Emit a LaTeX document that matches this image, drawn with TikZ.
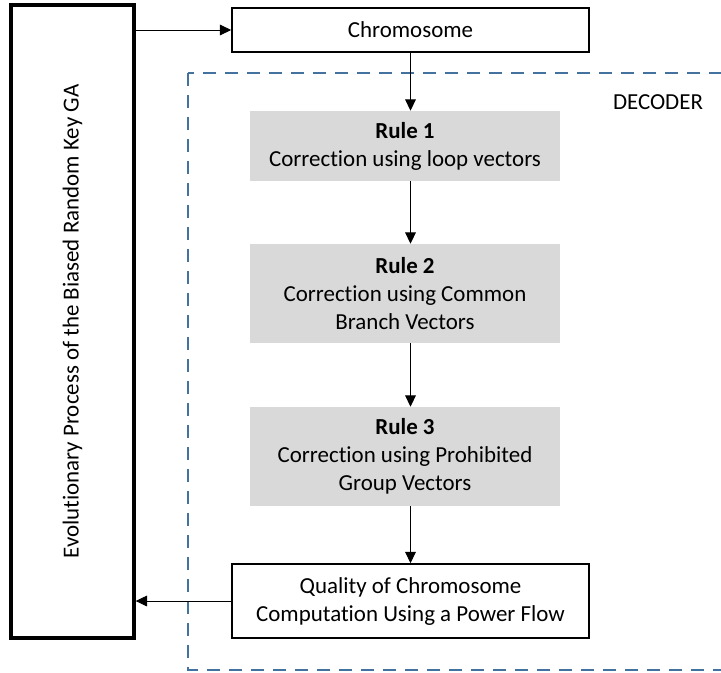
\documentclass[tikz,border=0pt]{standalone}
\usepackage{fontspec}
\setmainfont{Carlito}[Ligatures=NoCommon]
\usetikzlibrary{arrows.meta}
\usetikzlibrary{positioning}
\definecolor{decoblue}{RGB}{68,114,158}

\begin{document}
\begin{tikzpicture}[x=0.75pt,y=-0.75pt,
            >={Triangle[length=8.5pt,width=8pt]},
            font=\fontsize{17.2}{21}\selectfont,
            box/.style = {draw,line width=1.2pt,fill=white,align=center,
                minimum width=267.75pt,inner sep=0pt},
            rulebox/.style = {fill=black!15,align=center,
                minimum width=232.5pt,inner sep=0pt},
            link/.style = {->,line width=0.75pt}]
            \useasboundingbox (0,0) rectangle (721,672);
            % decoder frame
            \draw[decoblue,line width=1.1pt,dash pattern=on 9.75pt off 6.75pt]
                (188,73) rectangle (760,670);
            \node (decoder) at (658,102) {DECODER};
            \node[draw,line width=2.5pt,minimum width=92.25pt,minimum height=474.75pt,
                inner sep=0pt](evo) at (72.5,321.5) {};
            \node[rotate=90] at (evo.center) {Evolutionary Process of the Biased Random Key GA};
            \node[box,minimum height=33pt](chrom) at (410.5,30) {Chromosome};
            \node[rulebox,minimum height=52.5pt](r1) at (405,146)
                {\textbf{Rule 1}\\Correction using loop vectors};
            \node[rulebox,minimum height=74.25pt](r2) at (405,293.5)
                {\textbf{Rule 2}\\Correction using Common\\Branch Vectors};
            \node[rulebox,minimum height=74.25pt](r3) at (405,456.5)
                {\textbf{Rule 3}\\Correction using Prohibited\\Group Vectors};
            \node[box,minimum height=55.5pt](quality) at (410.5,601)
                {Quality of Chromosome\\Computation Using a Power Flow};
            \path[link]
                (evo.east |- chrom.west) edge (chrom.west)
                (chrom.south) edge (chrom.south |- r1.north)
                (chrom.south |- r1.south) edge (chrom.south |- r2.north)
                (chrom.south |- r2.south) edge (chrom.south |- r3.north)
                (chrom.south |- r3.south) edge (quality.north)
                (quality.west) edge (quality.west -| evo.east);
        \end{tikzpicture}
\end{document}
